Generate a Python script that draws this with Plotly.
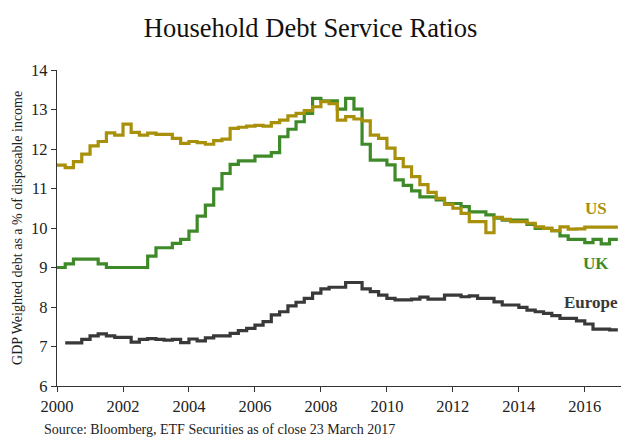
import pandas as pd
import plotly.graph_objects as go

# Quarterly observation dates (2000Q1 .. 2017Q1)
quarters = pd.date_range("2000-01-01", "2017-01-01", freq="QS")
europe_dates = quarters[1:]

us = [11.59, 11.53, 11.68, 11.87, 12.08, 12.19, 12.41, 12.35,
      12.63, 12.42, 12.35, 12.40, 12.37, 12.37, 12.27, 12.14,
      12.19, 12.16, 12.12, 12.21, 12.25, 12.52, 12.55, 12.58,
      12.60, 12.58, 12.67, 12.73, 12.84, 12.90, 12.97, 13.07,
      13.20, 13.15, 12.73, 12.82, 12.76, 12.71, 12.35, 12.27,
      12.02, 11.76, 11.55, 11.30, 11.10, 10.90, 10.75, 10.60,
      10.50, 10.37, 10.16, 10.16, 9.88, 10.27, 10.22, 10.16,
      10.16, 10.12, 10.03, 9.99, 9.93, 10.03, 9.97, 9.98,
      10.02, 10.02, 10.02, 10.02, 10.02]

uk = [9.00, 9.09, 9.21, 9.21, 9.21, 9.09, 9.00, 9.00,
      9.00, 9.00, 9.00, 9.29, 9.50, 9.50, 9.61, 9.71,
      9.92, 10.30, 10.58, 10.99, 11.38, 11.61, 11.70, 11.70,
      11.82, 11.82, 11.91, 12.31, 12.50, 12.69, 12.90, 13.28,
      13.22, 13.22, 13.01, 13.28, 13.01, 12.12, 11.72, 11.72,
      11.60, 11.22, 11.08, 10.94, 10.79, 10.79, 10.71, 10.62,
      10.62, 10.54, 10.41, 10.41, 10.33, 10.25, 10.20, 10.20,
      10.20, 10.09, 9.99, 9.99, 9.93, 9.80, 9.71, 9.71,
      9.63, 9.71, 9.60, 9.71, 9.71]

europe = [7.09, 7.09, 7.18, 7.27, 7.32, 7.27, 7.23,
          7.23, 7.11, 7.18, 7.20, 7.18, 7.16, 7.18, 7.10,
          7.19, 7.14, 7.22, 7.27, 7.27, 7.33, 7.40, 7.46,
          7.54, 7.63, 7.80, 7.88, 8.03, 8.12, 8.22, 8.35,
          8.46, 8.50, 8.50, 8.62, 8.62, 8.46, 8.39, 8.30,
          8.22, 8.18, 8.18, 8.20, 8.25, 8.20, 8.20, 8.30,
          8.30, 8.26, 8.28, 8.22, 8.22, 8.13, 8.05, 8.05,
          7.99, 7.92, 7.88, 7.84, 7.78, 7.71, 7.71, 7.65,
          7.57, 7.44, 7.44, 7.42, 7.42]

year_ticks = [f"{y}-01-01" for y in range(2000, 2017, 2)]
year_labels = [str(y) for y in range(2000, 2017, 2)]

US_C = "#A8900A"
UK_C = "#3F8A28"
EU_C = "#3A3838"
FONT = "Georgia, 'Liberation Serif', 'DejaVu Serif', serif"

fig = go.Figure()
fig.add_trace(go.Scatter(x=europe_dates, y=europe, mode="lines", line=dict(color=EU_C, width=3.2, shape="hv"), name="Europe"))
fig.add_trace(go.Scatter(x=quarters, y=uk, mode="lines", line=dict(color=UK_C, width=3.2, shape="hv"), name="UK"))
fig.add_trace(go.Scatter(x=quarters, y=us, mode="lines", line=dict(color=US_C, width=3.2, shape="hv"), name="US"))

labels = [("US", "2016-05-01", 10.5, US_C), ("UK", "2016-05-01", 9.1, UK_C), ("Europe", "2016-03-15", 8.12, EU_C)]
for txt, lx, ly, col in labels:
    fig.add_annotation(x=lx, y=ly, text=f"<b>{txt}</b>", showarrow=False,
                       font=dict(family=FONT, size=17, color=col), xanchor="center", yanchor="middle")

fig.add_annotation(xref="paper", yref="paper", x=-0.071, y=0.5, text="GDP Weighted debt as a % of disposable income",
                   textangle=-90, showarrow=False, font=dict(family=FONT, size=14, color="#222"),
                   xanchor="center", yanchor="middle")
fig.add_annotation(xref="paper", yref="paper", x=-0.027, y=-0.139, text="Source: Bloomberg, ETF Securities as of close 23 March 2017",
                   showarrow=False, font=dict(family=FONT, size=14, color="#222"), xanchor="left", yanchor="middle")

fig.update_layout(
    width=621, height=439,
    margin=dict(l=57, r=0, t=70, b=53),
    paper_bgcolor="white", plot_bgcolor="white",
    showlegend=False,
    title=dict(text="Household Debt Service Ratios", x=0.5, xanchor="center", y=1 - 28 / 439, yanchor="middle",
               font=dict(family=FONT, size=26.5, color="#111")),
    font=dict(family=FONT, color="#222"),
)
fig.update_xaxes(type="date", range=["2000-01-01", "2017-02-05"], tickvals=year_ticks, ticktext=year_labels,
                 showgrid=False, zeroline=False, showline=True, linecolor="#333", linewidth=1.2,
                 ticks="outside", ticklen=5, tickcolor="#333", tickfont=dict(family=FONT, size=16.5, color="#222"))
fig.update_yaxes(range=[6, 14], dtick=1, showgrid=False, zeroline=False, showline=True, linecolor="#333", linewidth=1.2,
                 ticks="outside", ticklen=5, tickcolor="#333", tickfont=dict(family=FONT, size=16.5, color="#222"))

fig.write_html("out.html", config={"displayModeBar": False},
               post_script="document.body.style.margin='0';document.body.style.padding='0';")
